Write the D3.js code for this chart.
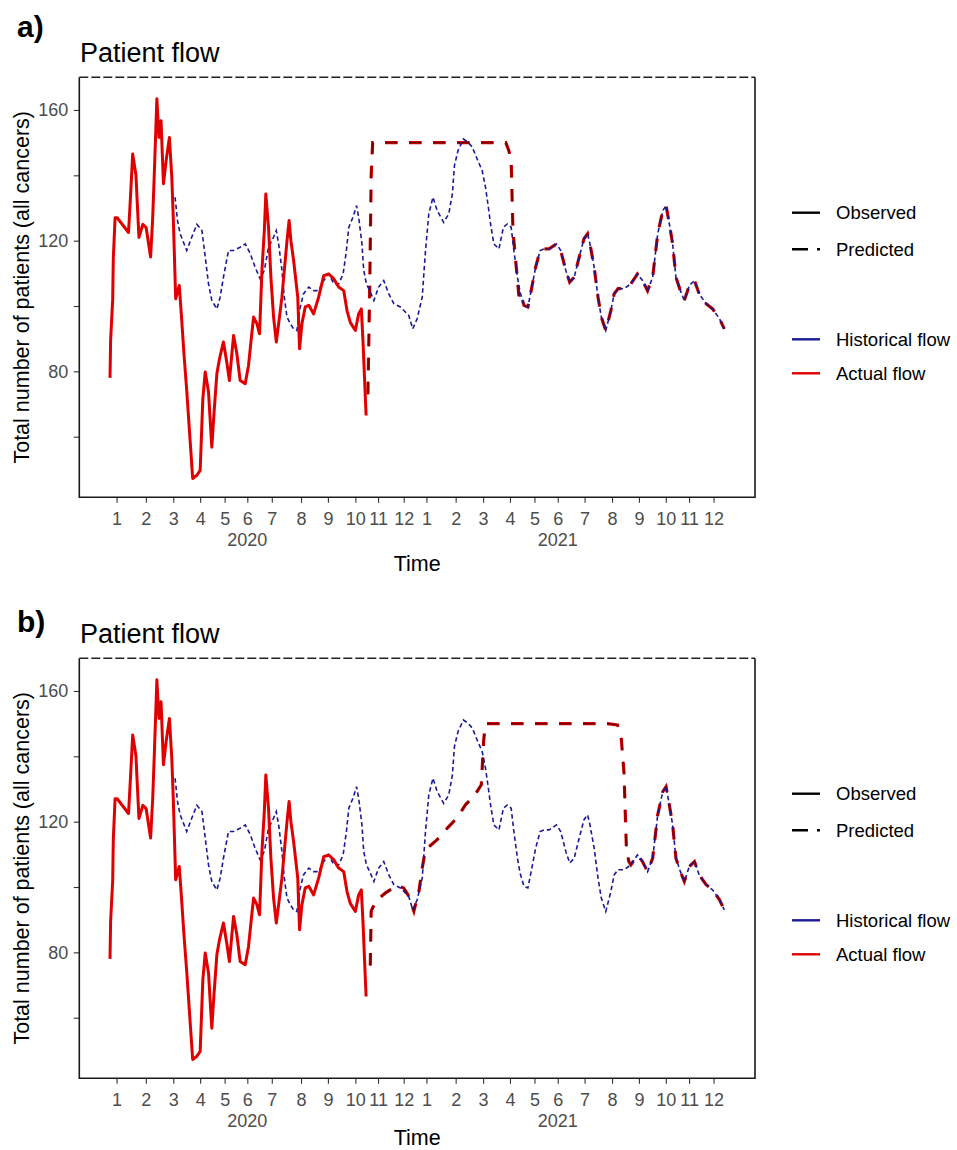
<!DOCTYPE html>
<html>
<head>
<meta charset="utf-8">
<script src="https://cdn.jsdelivr.net/npm/d3@7"></script>
<style>
  body { margin: 0; background: #fff; }
  svg { display: block; }
  text { font-family: "Liberation Sans", Arial, sans-serif; }
</style>
</head>
<body>
<svg id="chart" width="957" height="1150"></svg>
<script>
// x is measured in weeks from the first weekly point (early Jan 2020)
const monthWeeks = [1.1, 6.0, 10.6, 15.1, 19.2, 23.0, 27.1, 32.0, 36.5, 41.1, 44.9, 49.2,
                    53.0, 57.9, 62.5, 67.0, 71.1, 75.0, 79.5, 84.1, 88.6, 93.1, 97.0, 101.1];
const monthLabels = ["1","2","3","4","5","6","7","8","9","10","11","12",
                     "1","2","3","4","5","6","7","8","9","10","11","12"];
const yearWeeks = [23.0, 75.0];
const yearLabels = ["2020", "2021"];
const yTicks = [60, 80, 100, 120, 140, 160];
const yLabelled = [80, 120, 160];

// actual flow, observed part
const observed = [
  [0.0,78],[0.1,89.5],[0.45,102],[0.55,114.5],[0.85,127],[1.2,127],[3.1,122.5],[3.35,130.7],
  [3.8,146.5],[4.35,140],[4.5,134],[4.85,121],[5.5,125],[6.05,124],[6.8,115],[7.15,127],
  [7.4,139.5],[7.85,163.4],[8.2,151.6],[8.55,156.7],[8.95,137.4],[9.4,144.5],[9.95,151.6],
  [10.35,139.4],[10.6,127],[11.0,102.2],[11.6,106.3],[12.0,96],[12.4,85],[12.85,74.2],
  [13.3,62],[13.85,47.2],[14.55,48.2],[15.1,49.7],[15.55,71.6],[15.95,79.8],[16.5,73.7],
  [17.05,56.8],[17.45,68],[17.9,79.3],[18.35,83.9],[19.0,89],[19.6,82.3],[20.0,77.2],
  [20.7,91],[21.25,85.4],[21.8,77.2],[22.65,76.2],[23.2,81.8],[23.75,91.5],[24.05,96.6],
  [24.6,94.6],[25.05,91.5],[25.45,110.9],[25.85,123.1],[26.1,134.3],[26.55,124.1],
  [26.95,108.8],[27.4,96.6],[27.85,89],[28.25,94.6],[28.8,102.7],[29.2,110.9],[29.65,120],
  [30.0,126.2],[30.3,120],[30.75,114],[31.45,102.7],[31.75,86.9],[32.15,94.6],[32.7,99.7],
  [33.3,100.2],[34.1,97.6],[34.95,102.7],[35.8,109.3],[36.65,109.8],[37.5,108.3],
  [38.3,105.8],[39.15,104.7],[39.7,98.6],[40.25,95],[41.1,92.5],[41.65,97.6],[42.1,99.1],
  [42.4,88.4],[42.65,77.2],[42.9,66.5]
];

// historical flow (predicted, navy)
const historical = [
  [10.9,133.3],[11.3,126.2],[11.75,122.1],[12.85,117],[13.7,121.1],[14.55,125],[15.4,123.1],
  [15.95,115],[16.5,106.8],[17.05,101.7],[17.9,99.1],[18.45,102.7],[19.0,108.8],[19.85,117],
  [20.7,117],[21.8,118],[22.65,119],[23.5,116],[24.3,111.9],[25.15,108.3],[25.85,110.9],
  [26.55,118],[27.4,121.1],[27.85,123.1],[28.25,119],[28.8,110.9],[29.2,102.7],[29.65,96.6],
  [30.2,94.6],[30.75,93],[31.3,92.5],[31.75,98.6],[32.4,103.7],[33.3,105.8],[34.1,104.7],
  [34.95,104.7],[35.8,107.8],[36.65,109.8],[37.5,106.8],[38.3,106.8],[39.05,109.8],
  [39.6,117],[40.0,124.1],[40.7,127.2],[41.3,130.7],[41.65,127.2],[42.2,119],[42.5,110.9],
  [42.95,106.8],[43.5,104.7],[44.2,101.7],[45.0,105.8],[45.85,107.8],[46.7,103.7],
  [47.55,100.7],[48.65,99.7],[50.05,97.1],[50.7,93],[51.45,96.1],[52.3,102.7],[52.85,117],
  [53.4,128.2],[54.1,133.3],[54.8,129.2],[55.9,125.6],[56.75,128.2],[57.35,134.3],[57.7,143],
  [58.3,147.6],[59.2,151.1],[60.0,150.1],[60.7,148.6],[61.5,145],[62.35,141.4],[62.9,136.4],
  [63.3,131.3],[63.75,125.1],[64.3,119],[65.15,117.5],[65.9,124.1],[66.55,125.1],[67.2,124.1],
  [67.65,117],[68.25,108.8],[68.7,104.2],[69.35,100.2],[70.0,99.7],[70.55,104.7],[71.3,111.9],
  [72.05,117],[72.7,117.5],[73.55,117.5],[74.8,119],[75.5,117],[76.35,110.9],[77.0,107.3],
  [77.75,108.8],[78.6,115],[79.4,120.6],[80.0,122.1],[80.4,119],[81.1,111.9],[81.75,102.7],
  [82.3,96.6],[83.05,92.5],[83.9,98.6],[84.45,103.7],[85.1,105.3],[86.15,105.3],[87.25,106.8],
  [88.35,109.8],[89.2,107.8],[90.05,104.7],[90.9,108.8],[91.75,122.1],[92.6,129.2],
  [93.15,130.7],[93.7,125.1],[94.25,119],[94.8,108.8],[95.55,104.7],[96.2,101.7],[97.05,106.3],
  [97.9,107.8],[98.7,103.7],[99.85,100.7],[100.95,99.1],[102.1,96.1],[102.9,93]
];

// actual flow, predicted part; after the drop it runs on the historical curve
const predictedHeadA = [
  [43.2,73],[43.5,105],[43.75,140],[44.0,150],[66.3,150],[66.8,147.6],[67.2,144.5],
  [67.5,123],[67.9,115],[68.5,103]
];
const rejoinA = 68.7;
const predictedHeadB = [
  [43.6,76],[43.75,92.6],[44.5,95.6],[46.15,98.2],[48.1,100.5],[49.2,99.7],[50.05,97.2],
  [50.9,92.6],[51.75,98.7],[52.3,105.8],[52.85,111.4],[54.8,114.5],[56.5,118],[58.2,121.3],
  [59.55,125.2],[60.95,127.7],[62.2,131.3],[62.6,145],[62.9,150],[83.3,150],[85.0,149.6],
  [85.6,146.5],[86.1,135],[86.5,112],[86.9,107.8]
];
const rejoinB = 87.2;

const svg = d3.select("#chart");

const x = d3.scaleLinear().domain([-5.145, 108.045]).range([79.3, 755]);
const y = d3.scaleLinear().domain([41.45, 170]).range([497.3, 77.3]);
const line = d3.line().x(d => x(d[0])).y(d => y(d[1]));

const NAVY = "#1a1a96", RED = "#e00000", DARKRED = "#7a0000";

function drawPanel(offset, letter, letterY, predicted, timeY) {
  const g = svg.append("g").attr("transform", `translate(0,${offset})`);

  // x axis
  const xa = g.append("g")
      .attr("transform", `translate(0,${y.range()[0]})`)
      .call(d3.axisBottom(x).tickValues(monthWeeks)
        .tickFormat((d, i) => monthLabels[i]).tickSize(5.5).tickPadding(9.5));
  xa.select(".domain").remove();
  xa.selectAll("line").attr("stroke", "#333").attr("stroke-width", 1.1);
  xa.selectAll("text").attr("font-size", 18).attr("fill", "#4d4d4d")
      .attr("font-family", "Liberation Sans, Arial, sans-serif");

  g.selectAll(".year").data(yearLabels).join("text")
      .attr("class", "year")
      .attr("x", (d, i) => x(yearWeeks[i]))
      .attr("y", 545.5)
      .attr("text-anchor", "middle")
      .attr("font-size", 18).attr("fill", "#4d4d4d")
      .text(d => d);

  // y axis
  const ya = g.append("g")
      .attr("transform", `translate(${x.range()[0]},0)`)
      .call(d3.axisLeft(y).tickValues(yTicks)
        .tickFormat(d => yLabelled.includes(d) ? d : "").tickSize(5.5).tickPadding(5.5));
  ya.select(".domain").remove();
  ya.selectAll("line").attr("stroke", "#333").attr("stroke-width", 1.1);
  ya.selectAll("text").attr("font-size", 18).attr("fill", "#4d4d4d")
      .attr("font-family", "Liberation Sans, Arial, sans-serif");

  // panel border (top edge is dashed)
  const [x0, x1] = x.range(), [yb, yt] = y.range();
  g.append("path").attr("d", `M${x0},${yt}V${yb}H${x1}V${yt}`)
      .attr("fill", "none").attr("stroke", "#1a1a1a").attr("stroke-width", 1.6);
  g.append("line").attr("x1", x0).attr("x2", x1).attr("y1", yt).attr("y2", yt)
      .attr("stroke", "#222").attr("stroke-width", 1.6).attr("stroke-dasharray", "9,3");

  // lines
  g.append("path").datum(predicted).attr("d", line)
      .attr("fill", "none").attr("stroke", RED).attr("stroke-width", 3.2)
      .attr("stroke-dasharray", "12.5,11.5");
  g.append("path").datum(predicted).attr("d", line)
      .attr("fill", "none").attr("stroke", DARKRED).attr("stroke-width", 1.8)
      .attr("stroke-dasharray", "12.5,11.5");

  g.append("path").datum(historical).attr("d", line)
      .attr("fill", "none").attr("stroke", NAVY).attr("stroke-width", 1.6)
      .attr("stroke-dasharray", "4.5,3");

  g.append("path").datum(observed).attr("d", line)
      .attr("fill", "none").attr("stroke", RED).attr("stroke-width", 3)
      .attr("stroke-linejoin", "round");

  // titles
  g.append("text").attr("x", 80).attr("y", 61.5)
      .attr("font-size", 27).attr("fill", "#000").text("Patient flow");
  svg.append("text").attr("x", 17).attr("y", letterY)
      .attr("font-size", 30).attr("font-weight", "bold").attr("fill", "#000").text(letter);
  g.append("text")
      .attr("transform", `translate(28.5,${(yt + yb) / 2}) rotate(-90)`)
      .attr("text-anchor", "middle").attr("font-size", 21.5).attr("fill", "#000")
      .text("Total number of patients (all cancers)");
  g.append("text").attr("x", (x0 + x1) / 2).attr("y", timeY)
      .attr("text-anchor", "middle").attr("font-size", 21.5).attr("fill", "#000")
      .text("Time");

  // legends
  const lg = g.append("g");
  const keys = [
    { label: "Observed", y: 212.7, color: "#000", dash: null },
    { label: "Predicted", y: 249.3, color: "#000", dash: "16,9" },
    { label: "Historical flow", y: 339.3, color: NAVY, dash: null },
    { label: "Actual flow", y: 373.3, color: RED, dash: null }
  ];
  keys.forEach(k => {
    lg.append("line").attr("x1", 792).attr("x2", 820).attr("y1", k.y).attr("y2", k.y)
        .attr("stroke", k.color).attr("stroke-width", 2.4)
        .attr("stroke-dasharray", k.dash);
    lg.append("text").attr("x", 836).attr("y", k.y + 6.6)
        .attr("font-size", 18.5).attr("fill", "#000").text(k.label);
  });
}

const predictedA = predictedHeadA.concat(historical.filter(d => d[0] >= rejoinA));
const predictedB = predictedHeadB.concat(historical.filter(d => d[0] >= rejoinB));

drawPanel(0, "a)", 36.7, predictedA, 571);
drawPanel(581, "b)", 631.7, predictedB, 563.5);
</script>
</body>
</html>
